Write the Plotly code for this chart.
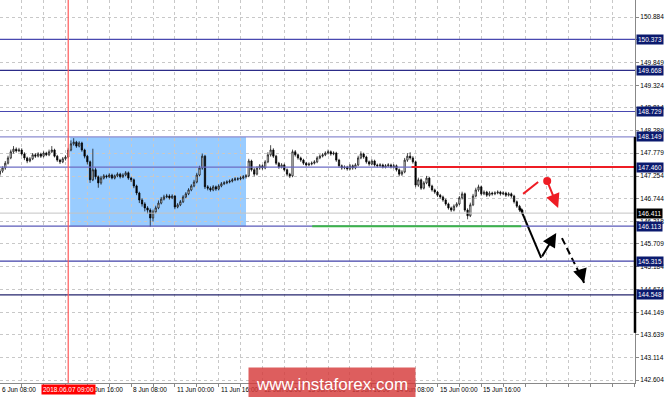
import plotly.graph_objects as go

# ---------------- data (hourly bars, bar index 0 = 6 Jun 08:00) ----------------
opens = [147.30,147.37,147.44,147.55,147.67,147.81,147.87,147.83,147.85,147.76,
147.67,147.60,147.65,147.74,147.71,147.76,147.71,147.78,147.74,147.81,
147.85,147.71,147.62,147.58,147.65,147.69,147.85,147.99,148.03,147.94,
148.01,147.85,147.71,147.58,147.17,147.40,147.24,147.10,147.21,147.26,
147.24,147.28,147.21,147.26,147.30,147.24,147.28,147.33,147.21,147.17,
147.03,146.87,146.71,146.62,146.53,146.48,146.30,146.44,146.53,146.64,
146.73,146.78,146.80,146.76,146.80,146.55,146.60,146.67,146.78,146.85,
146.94,147.03,147.12,147.28,147.44,147.71,147.01,146.98,146.94,147.01,
146.96,147.03,147.08,147.10,147.12,147.14,147.17,147.19,147.19,147.21,
147.24,147.26,147.60,147.40,147.30,147.44,147.49,147.44,147.58,147.74,
147.85,147.71,147.55,147.46,147.51,147.40,147.30,147.26,147.81,147.74,
147.67,147.62,147.55,147.51,147.53,147.55,147.58,147.67,147.71,147.74,
147.78,147.81,147.76,147.78,147.62,147.49,147.44,147.46,147.42,147.49,
147.44,147.51,147.67,147.76,147.69,147.58,147.53,147.60,147.51,147.49,
147.51,147.46,147.49,147.51,147.46,147.49,147.40,147.30,147.35,147.62,
147.71,147.67,147.58,147.05,147.17,146.98,147.10,147.21,147.03,146.94,
146.89,146.82,146.78,146.71,146.62,146.53,146.48,146.57,146.62,146.76,
146.85,146.48,146.35,146.60,146.80,146.94,147.01,146.85,146.89,146.82,
146.87,146.85,146.87,146.89,146.85,146.87,146.82,146.85,146.80,146.67,
146.57,146.48]
closes = [147.37,147.44,147.55,147.67,147.81,147.87,147.83,147.85,147.76,147.67,
147.60,147.65,147.74,147.71,147.76,147.71,147.78,147.74,147.81,147.85,
147.71,147.62,147.58,147.65,147.69,147.85,147.99,148.03,147.94,148.01,
147.85,147.71,147.58,147.17,147.40,147.24,147.10,147.21,147.26,147.24,
147.28,147.21,147.26,147.30,147.24,147.28,147.33,147.21,147.17,147.03,
146.87,146.71,146.62,146.53,146.48,146.30,146.44,146.53,146.64,146.73,
146.78,146.80,146.76,146.80,146.55,146.60,146.67,146.78,146.85,146.94,
147.03,147.12,147.28,147.44,147.71,147.01,146.98,146.94,147.01,146.96,
147.03,147.08,147.10,147.12,147.14,147.17,147.19,147.19,147.21,147.24,
147.26,147.60,147.40,147.30,147.44,147.49,147.44,147.58,147.74,147.85,
147.71,147.55,147.46,147.51,147.40,147.30,147.26,147.81,147.74,147.67,
147.62,147.55,147.51,147.53,147.55,147.58,147.67,147.71,147.74,147.78,
147.81,147.76,147.78,147.62,147.49,147.44,147.46,147.42,147.49,147.44,
147.51,147.67,147.76,147.69,147.58,147.53,147.60,147.51,147.49,147.51,
147.46,147.49,147.51,147.46,147.49,147.40,147.30,147.35,147.62,147.71,
147.67,147.58,147.05,147.17,146.98,147.10,147.21,147.03,146.94,146.89,
146.82,146.78,146.71,146.62,146.53,146.48,146.57,146.62,146.76,146.85,
146.48,146.35,146.60,146.80,146.94,147.01,146.85,146.89,146.82,146.87,
146.85,146.87,146.89,146.85,146.87,146.82,146.85,146.80,146.67,146.57,
146.48,146.411]
highs = [147.42,147.48,147.60,147.72,147.86,147.94,147.91,147.90,147.89,147.80,
147.70,147.69,147.78,147.78,147.80,147.79,147.82,147.81,147.86,147.94,
147.88,147.74,147.65,147.69,147.73,147.90,148.07,148.12,148.06,148.05,
148.04,147.88,147.74,147.61,147.88,147.45,147.27,147.26,147.30,147.29,
147.32,147.31,147.29,147.34,147.33,147.32,147.37,147.36,147.24,147.20,
147.06,146.90,146.75,146.66,146.57,146.52,146.49,146.58,146.70,146.78,
146.83,146.85,146.84,146.84,146.82,146.64,146.71,146.82,146.89,146.98,
147.07,147.17,147.33,147.49,147.77,147.74,147.05,147.02,147.05,147.04,
147.07,147.12,147.14,147.16,147.18,147.21,147.23,147.23,147.25,147.28,
147.30,147.65,147.63,147.44,147.48,147.53,147.52,147.62,147.80,147.96,
147.89,147.74,147.58,147.55,147.54,147.43,147.33,147.86,147.85,147.77,
147.70,147.65,147.58,147.57,147.59,147.62,147.71,147.75,147.78,147.82,
147.86,147.84,147.82,147.81,147.65,147.52,147.50,147.49,147.53,147.52,
147.55,147.72,147.82,147.79,147.72,147.61,147.64,147.63,147.54,147.55,
147.54,147.53,147.55,147.54,147.53,147.52,147.43,147.39,147.67,147.78,
147.80,147.71,147.61,147.22,147.20,147.14,147.26,147.24,147.06,146.97,
146.92,146.85,146.81,146.74,146.65,146.56,146.61,146.66,146.80,146.90,
146.88,146.52,146.65,146.85,146.99,147.06,147.04,146.93,146.92,146.91,
146.90,146.91,146.93,146.92,146.91,146.90,146.89,146.88,146.83,146.70,
146.60,146.51]
lows = [147.25,147.33,147.40,147.52,147.64,147.77,147.79,147.80,147.72,147.62,
147.55,147.57,147.62,147.67,147.68,147.67,147.68,147.71,147.71,147.78,
147.68,147.58,147.53,147.55,147.61,147.66,147.82,147.95,147.90,147.91,
147.81,147.66,147.52,147.10,147.14,147.18,146.99,147.06,147.18,147.20,
147.21,147.18,147.18,147.23,147.20,147.21,147.25,147.17,147.12,146.98,
146.82,146.64,146.56,146.45,146.40,146.10,146.22,146.40,146.50,146.61,
146.70,146.75,146.72,146.73,146.50,146.52,146.57,146.64,146.75,146.82,
146.91,147.00,147.09,147.25,147.40,146.96,146.93,146.90,146.91,146.92,
146.93,147.00,147.05,147.07,147.09,147.11,147.14,147.15,147.16,147.18,
147.20,147.23,147.36,147.25,147.27,147.40,147.40,147.41,147.55,147.70,
147.67,147.51,147.42,147.43,147.36,147.25,147.21,147.23,147.70,147.63,
147.58,147.51,147.47,147.48,147.50,147.52,147.55,147.64,147.68,147.71,
147.75,147.72,147.73,147.58,147.45,147.40,147.41,147.38,147.39,147.40,
147.41,147.48,147.64,147.65,147.54,147.49,147.50,147.47,147.45,147.46,
147.43,147.43,147.46,147.43,147.43,147.36,147.25,147.26,147.32,147.58,
147.63,147.54,147.00,147.01,146.94,146.95,147.07,146.99,146.90,146.85,
146.78,146.74,146.67,146.58,146.49,146.44,146.45,146.54,146.59,146.72,
146.44,146.27,146.32,146.57,146.77,146.90,146.81,146.82,146.78,146.79,
146.81,146.82,146.84,146.81,146.82,146.78,146.79,146.76,146.63,146.53,
146.44,146.38]
bars = list(range(len(closes)))

# axis ticks (150.364 lies under the 150.373 level label, so its text is not shown)
price_ticks = [150.884, 150.364, 149.849, 149.324, 148.814, 148.289, 147.779, 147.254,
               146.744, 146.218, 145.709, 145.184, 144.674, 144.149, 143.639, 143.114, 142.604]
price_tick_text = ["150.884", "", "149.849", "149.324", "148.814", "148.289", "147.779", "147.254",
                   "146.744", "146.218", "145.709", "145.184", "144.674", "144.149", "143.639",
                   "143.114", "142.604"]
grid_bars = list(range(8, 233, 8))
date_bars = [0.07, 32, 48, 64, 80, 96, 112, 128, 144, 160, 176]
date_labels = ["6 Jun 08:00", "7 Jun 16:00", "8 Jun 08:00", "11 Jun 00:00",
               "11 Jun 16:00", "12 Jun 08:00", "13 Jun 00:00", "13 Jun 16:00",
               "14 Jun 08:00", "15 Jun 00:00", "15 Jun 16:00"]

# horizontal levels (price, colour)
level_prices = [150.373, 149.668, 148.729, 148.149, 147.460, 146.113, 145.315, 144.548]
level_colors = ["#4848b0", "#2c2c88", "#4848b0", "#8c8cd0", "#6c6cc4", "#5a5ab8", "#4040a8", "#24246c"]
current_price = 146.411
red_level = 147.460
red_level_start = 150.5
green_level = 146.113
green_start, green_end = 114.2, 190.6
box_x = [25.7, 90.0]
box_y = [146.113, 148.149]
event_bar = 25
event_label = "2018.06.07 09:00"

# forecast arrows (bar, price)
red_line_x, red_line_y = [191.3, 196.8], [146.85, 147.12]
red_dot = (200.1, 147.143)
red_arrow_to = (204.1, 146.53)
black_leg1_x, black_leg1_y = [190.2, 197.9], [146.53, 145.39]
black_arrow_to = (203.4, 145.96)
black_dash_from = (205.5, 145.84)
black_dash_to = (213.6, 144.82)

FONT = "Liberation Sans"
fig = go.Figure()

fig.add_trace(go.Candlestick(
    x=bars, open=opens, high=highs, low=lows, close=closes,
    increasing=dict(line=dict(color="black", width=0.7), fillcolor="white"),
    decreasing=dict(line=dict(color="black", width=0.7), fillcolor="black"),
    whiskerwidth=0, hoverinfo="skip", showlegend=False))

# red forecast line + dot
fig.add_trace(go.Scatter(x=red_line_x, y=red_line_y, mode="lines",
                         line=dict(color="#ee1c24", width=2), showlegend=False, hoverinfo="skip"))
fig.add_trace(go.Scatter(x=[red_dot[0]], y=[red_dot[1]], mode="markers",
                         marker=dict(color="#ee1c24", size=8), showlegend=False, hoverinfo="skip"))
# black first leg
fig.add_trace(go.Scatter(x=black_leg1_x, y=black_leg1_y, mode="lines",
                         line=dict(color="black", width=2), showlegend=False, hoverinfo="skip"))
# black dashed leg
fig.add_trace(go.Scatter(x=[black_dash_from[0], black_dash_to[0]], y=[black_dash_from[1], black_dash_to[1]],
                         mode="lines", line=dict(color="black", width=2, dash="7px,4px"),
                         showlegend=False, hoverinfo="skip"))

shapes = []
# blue box
shapes.append(dict(type="rect", xref="x", yref="y", x0=box_x[0], x1=box_x[1], y0=box_y[0], y1=box_y[1],
                   fillcolor="#99ccff", line=dict(width=0), layer="below"))
# current price line
shapes.append(dict(type="line", xref="paper", yref="y", x0=0, x1=1, y0=current_price, y1=current_price,
                   line=dict(color="#c4c4c4", width=1)))
for p, c in zip(level_prices, level_colors):
    shapes.append(dict(type="line", xref="paper", yref="y", x0=0, x1=1, y0=p, y1=p,
                       line=dict(color=c, width=1.2)))
shapes.append(dict(type="line", xref="x", yref="y", x0=red_level_start, x1=232.2, y0=red_level, y1=red_level,
                   line=dict(color="#ee1c24", width=2)))
shapes.append(dict(type="line", xref="x", yref="y", x0=green_start, x1=green_end, y0=green_level, y1=green_level,
                   line=dict(color="#3cb44a", width=2)))
shapes.append(dict(type="line", xref="x", yref="paper", x0=event_bar, x1=event_bar, y0=0, y1=1,
                   line=dict(color="#ff5a5a", width=1.2)))
# right axis thick segment
shapes.append(dict(type="line", xref="paper", yref="y", x0=1, x1=1, y0=148.149, y1=143.68,
                   line=dict(color="black", width=2.5)))

annotations = []
# date labels
for b, t in zip(date_bars, date_labels):
    annotations.append(dict(x=b, y=0, xref="x", yref="paper", text=t, showarrow=False,
                            xanchor="left", yanchor="top", xshift=0, yshift=-1,
                            font=dict(family=FONT, size=6.5, color="black")))
annotations.append(dict(x=event_bar, y=0, xref="x", yref="paper", text=event_label, showarrow=False,
                        xanchor="center", yanchor="top", yshift=-1, bgcolor="#ff0000",
                        borderpad=1, font=dict(family=FONT, size=6.5, color="white")))
# right level labels
for p in level_prices:
    annotations.append(dict(x=1, y=p, xref="paper", yref="y", text=f"{p:.3f}", showarrow=False,
                            xanchor="left", yanchor="middle", xshift=1, bgcolor="#0b1a6e",
                            borderpad=1, font=dict(family=FONT, size=6.5, color="white")))
annotations.append(dict(x=1, y=current_price, xref="paper", yref="y", text=f"{current_price:.3f}",
                        showarrow=False, xanchor="left", yanchor="middle", xshift=1, bgcolor="black",
                        borderpad=1, font=dict(family=FONT, size=6.5, color="white")))
# arrow heads
annotations.append(dict(x=red_arrow_to[0], y=red_arrow_to[1], ax=red_dot[0], ay=red_dot[1],
                        xref="x", yref="y", axref="x", ayref="y", text="", showarrow=True,
                        arrowhead=2, arrowsize=1.4, arrowwidth=2, arrowcolor="#ee1c24"))
annotations.append(dict(x=black_arrow_to[0], y=black_arrow_to[1], ax=black_leg1_x[1], ay=black_leg1_y[1],
                        xref="x", yref="y", axref="x", ayref="y", text="", showarrow=True,
                        arrowhead=2, arrowsize=1.4, arrowwidth=2, arrowcolor="black"))
annotations.append(dict(x=black_dash_to[0], y=black_dash_to[1], ax=black_dash_to[0] - 1.2,
                        ay=black_dash_to[1] + 0.24, xref="x", yref="y", axref="x", ayref="y", text="",
                        showarrow=True, arrowhead=2, arrowsize=1.4, arrowwidth=2, arrowcolor="black"))
# watermark
annotations.append(dict(x=(245 + 418) / 2 / 635, y=-0.005, xref="paper", yref="paper",
                        text="www.instaforex.com", showarrow=False, xanchor="center", yanchor="middle",
                        bgcolor="rgba(214,58,58,0.82)", borderpad=7,
                        font=dict(family=FONT, size=17, color="white")))

fig.update_layout(
    width=665, height=397,
    margin=dict(l=0, r=30, t=0, b=14),
    paper_bgcolor="white", plot_bgcolor="white",
    showlegend=False, hovermode=False,
    shapes=shapes, annotations=annotations,
    xaxis=dict(range=[0.066, 232.2], rangeslider=dict(visible=False), tickvals=grid_bars,
               ticktext=[""] * len(grid_bars), showgrid=True, gridcolor="#c8c8c8", griddash="3px,3px",
               gridwidth=1, ticks="outside", ticklen=3, tickcolor="#888888", zeroline=False,
               showline=True, linecolor="#888888", linewidth=1),
    yaxis=dict(range=[142.536, 151.272], side="right", tickvals=price_ticks, ticktext=price_tick_text,
               showgrid=True, gridcolor="#c8c8c8", griddash="3px,3px", gridwidth=1, ticks="outside",
               ticklen=3, tickcolor="#888888", zeroline=False, showline=True, linecolor="#888888",
               linewidth=1, tickfont=dict(family=FONT, size=6.5, color="black")),
)

fig.write_html("out.html")
